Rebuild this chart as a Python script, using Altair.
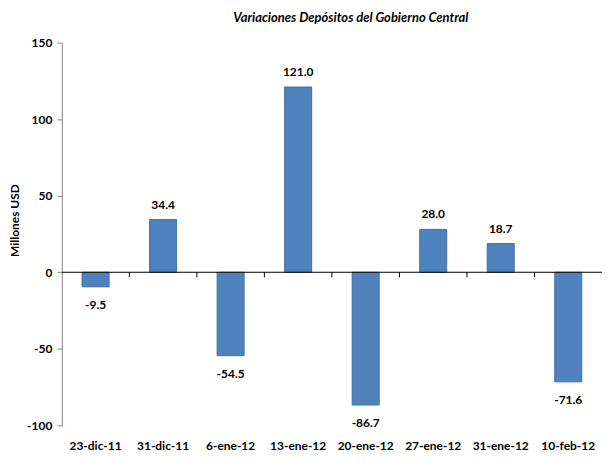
import altair as alt
import pandas as pd

categories = ["23-dic-11", "31-dic-11", "6-ene-12", "13-ene-12", "20-ene-12", "27-ene-12", "31-ene-12", "10-feb-12"]
values = [-9.5, 34.4, -54.5, 121.0, -86.7, 28.0, 18.7, -71.6]

df = pd.DataFrame({"fecha": categories, "valor": values})
df["label"] = [f"{v:.1f}" for v in values]

FONT = "Lato"
W, H = 542, 384

xscale = alt.Scale(domain=categories, paddingInner=0, paddingOuter=0)
yscale = alt.Scale(domain=[-100, 150], nice=False, zero=False)

xaxis = alt.Axis(orient="bottom", domain=False, ticks=False, labelAngle=0,
                 labelFont=FONT, labelFontSize=12, labelFontWeight="bold",
                 labelColor="black", labelPadding=15)


def X(**kw):
    return alt.X("fecha:N", sort=categories, scale=xscale, title=None, axis=xaxis, **kw)


bars = alt.Chart(df).mark_bar(color="#4F81BD", stroke="#41719C", strokeWidth=1,
                               width=alt.RelativeBandSize(0.40)).encode(
    x=X(),
    y=alt.Y("valor:Q", scale=yscale, title="Millones USD",
            axis=alt.Axis(values=[-100, -50, 0, 50, 100, 150], grid=False,
                          domainColor="#868686", tickColor="#868686", tickSize=5,
                          labelFont=FONT, labelFontSize=12, labelFontWeight="bold",
                          labelColor="black", labelPadding=5,
                          labelExpr="replace(datum.label, '\u2212', '-')",
                          titleFont=FONT, titleFontSize=12, titleFontWeight="bold",
                          titleColor="black", titleX=-47, titleY=178,
                          titleBaseline="middle")),
)

zero_line = alt.Chart(df).transform_filter(
    alt.datum.fecha == categories[0]
).mark_rule(color="black", strokeWidth=1).encode(
    x=alt.value(0), x2=alt.value(W), y=alt.datum(0)
)

tick_marks = alt.Chart(df).transform_filter(
    alt.datum.fecha != categories[0]
).mark_rule(color="black", strokeWidth=1).encode(
    x=X(bandPosition=0),
    y=alt.datum(0),
    y2=alt.datum(-3.3),
)

pos = alt.Chart(df).transform_filter("datum.valor >= 0").mark_text(
    font=FONT, fontSize=12, fontWeight="bold", color="black", baseline="middle", dy=-15
).encode(
    x=X(),
    y=alt.Y("valor:Q"),
    text="label:N",
)

neg = alt.Chart(df).transform_filter("datum.valor < 0").mark_text(
    font=FONT, fontSize=12, fontWeight="bold", color="black", baseline="middle", dy=18
).encode(
    x=X(),
    y=alt.Y("valor:Q"),
    text="label:N",
)

chart = alt.layer(bars, zero_line, tick_marks, pos, neg).properties(
    width=W, height=H,
    padding={"left": 1, "right": 0, "top": 3, "bottom": 1},
    title=alt.TitleParams("Variaciones Depósitos del Gobierno Central", font=FONT,
                          fontSize=13, fontWeight="bold", fontStyle="italic",
                          color="black", anchor="middle", frame="group", dx=19, offset=12),
).configure_view(stroke=None)

chart.save("out.html", embed_options={"renderer": "svg", "actions": False})
